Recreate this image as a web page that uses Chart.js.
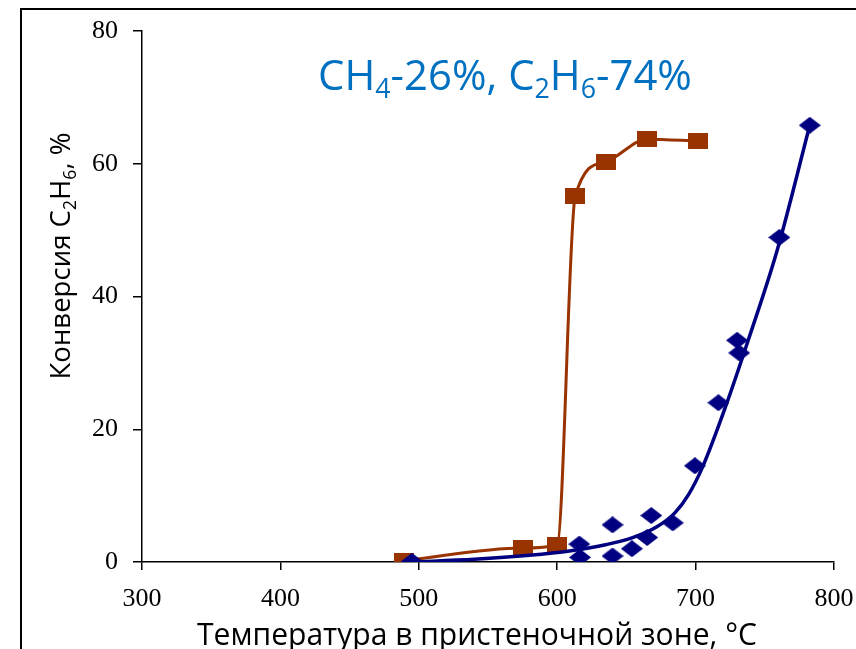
<!DOCTYPE html>
<html>
<head>
<meta charset="utf-8">
<script src="https://cdn.jsdelivr.net/npm/chart.js@4/dist/chart.umd.min.js"></script>
<style>
html,body{margin:0;padding:0;background:#fff;}
#wrap{position:relative;width:856px;height:649px;}
</style>
</head>
<body>
<div id="wrap"><canvas id="c" width="856" height="649"></canvas></div>
<script>
// ---- data ----
const xTicks = [300, 400, 500, 600, 700, 800];
const yTicks = [0, 20, 40, 60, 80];

// brown squares (with smoothed connecting line)
const tempBrown = [489, 575, 600, 613, 635, 665, 702];
const convBrown = [0.2, 2.1, 2.6, 55.1, 60.3, 63.7, 63.4];

// navy diamonds (measured points)
const tempBlue = [495, 616, 616.5, 640, 640, 654, 665, 668, 683.5, 699.5, 716.5, 730, 731.5, 760.5, 782.5];
const convBlue = [0.1, 2.7, 0.7, 5.6, 0.9, 2.0, 3.7, 7.0, 5.9, 14.5, 24.0, 33.4, 31.5, 48.9, 65.8];

// navy fitted curve
const tempFit = [495, 540, 580, 610, 635, 655, 672, 685, 695, 705, 722.5, 738, 759, 782.5];
const convFit = [0, 0.4, 1.0, 1.7, 2.6, 3.7, 5.3, 7.4, 10.2, 14.3, 23.9, 33.4, 47.0, 65.8];

const titleSegs = [{t:'CH'},{t:'4',sub:true},{t:'-26%, C'},{t:'2',sub:true},{t:'H'},{t:'6',sub:true},{t:'-74%'}];
const yTitleSegs = [{t:'Конверсия C'},{t:'2',sub:true},{t:'H'},{t:'6',sub:true},{t:', %'}];
const xTitleSegs = [{t:'Температура в пристеночной зоне, °C'}];

// ---- helpers ----
const toXY = (xs, ys) => xs.map((x, i) => ({x: x, y: ys[i]}));

function makeMarker(kind, w, h, color) {
  const c = document.createElement('canvas');
  c.width = w; c.height = h;
  const g = c.getContext('2d');
  g.fillStyle = color;
  if (kind === 'rect') {
    g.fillRect(0, 0, w, h);
  } else {
    g.beginPath();
    g.moveTo(w / 2, 0); g.lineTo(w, h / 2); g.lineTo(w / 2, h); g.lineTo(0, h / 2);
    g.closePath(); g.fill();
  }
  return c;
}
const squareMark = makeMarker('rect', 20, 16, '#993300');
const diamondMark = makeMarker('diamond', 22, 17, '#000080');

const SANS = '"Open Sans", "Noto Sans", sans-serif';
const SERIF = '"Liberation Serif", "DejaVu Serif", serif';
function richWidth(ctx, segs, size) {
  let w = 0;
  segs.forEach(s => {
    ctx.font = (s.sub ? size * 0.64 : size) + 'px ' + SANS;
    w += ctx.measureText(s.t).width;
  });
  return w;
}
function drawRich(ctx, segs, cx, baseY, targetW, color) {
  const size = 100 * targetW / richWidth(ctx, segs, 100);
  const total = richWidth(ctx, segs, size);
  let x = cx - total / 2;
  ctx.fillStyle = color;
  ctx.textAlign = 'left';
  ctx.textBaseline = 'alphabetic';
  segs.forEach(s => {
    const fs = s.sub ? size * 0.64 : size;
    ctx.font = fs + 'px ' + SANS;
    ctx.fillText(s.t, x, baseY + (s.sub ? size * 0.2 : 0));
    x += ctx.measureText(s.t).width;
  });
}

const decor = {
  id: 'decor',
  afterDraw(chart) {
    const ctx = chart.ctx;
    ctx.save();
    // outer frame
    ctx.strokeStyle = '#000';
    ctx.lineWidth = 2;
    ctx.beginPath();
    ctx.moveTo(21, 649); ctx.lineTo(21, 9); ctx.lineTo(860, 9);
    ctx.stroke();
    // annotation title
    drawRich(ctx, titleSegs, 505, 90, 374, '#0070C0');
    // x axis title
    drawRich(ctx, xTitleSegs, 477, 645, 560, '#000');
    // y axis title (rotated)
    ctx.translate(70, 256);
    ctx.rotate(-Math.PI / 2);
    drawRich(ctx, yTitleSegs, 0, 0, 247, '#000');
    ctx.restore();
  }
};

new Chart(document.getElementById('c'), {
  type: 'scatter',
  data: {
    datasets: [
      {
        label: 'points',
        data: toXY(tempBlue, convBlue),
        showLine: false,
        pointStyle: diamondMark,
        order: 0
      },
      {
        label: 'fit',
        data: toXY(tempFit, convFit),
        showLine: true,
        borderColor: '#000080',
        borderWidth: 3.5,
        pointRadius: 0,
        cubicInterpolationMode: 'monotone',
        order: 1
      },
      {
        label: 'brown',
        data: toXY(tempBrown, convBrown),
        showLine: true,
        borderColor: '#993300',
        borderWidth: 3,
        cubicInterpolationMode: 'monotone',
        pointStyle: squareMark,
        order: 2
      }
    ]
  },
  options: {
    responsive: false,
    animation: false,
    devicePixelRatio: 1,
    layout: { padding: { left: 0, right: 22, top: 31, bottom: 0 } },
    plugins: { legend: { display: false }, tooltip: { enabled: false }, title: { display: false } },
    scales: {
      x: {
        type: 'linear',
        min: 300, max: 800,
        afterBuildTicks: s => { s.ticks = xTicks.map(v => ({value: v})); },
        afterFit: s => { s.height = 87; s.paddingLeft = 0; s.paddingRight = 0; },
        border: { display: true, color: '#000', width: 1.5 },
        grid: { display: true, drawOnChartArea: false, drawTicks: true, tickLength: 8, color: '#000', lineWidth: 1.5 },
        ticks: { color: '#000', padding: 14, maxRotation: 0, font: { family: SERIF, size: 26 } }
      },
      y: {
        type: 'linear',
        min: 0, max: 80,
        afterBuildTicks: s => { s.ticks = yTicks.map(v => ({value: v})); },
        afterFit: s => { s.width = 142; s.paddingTop = 0; s.paddingBottom = 0; },
        border: { display: true, color: '#000', width: 1.5 },
        grid: { display: true, drawOnChartArea: false, drawTicks: true, tickLength: 9, color: '#000', lineWidth: 1.5 },
        ticks: { color: '#000', padding: 15, font: { family: SERIF, size: 26 } }
      }
    }
  },
  plugins: [decor]
});
</script>
</body>
</html>
